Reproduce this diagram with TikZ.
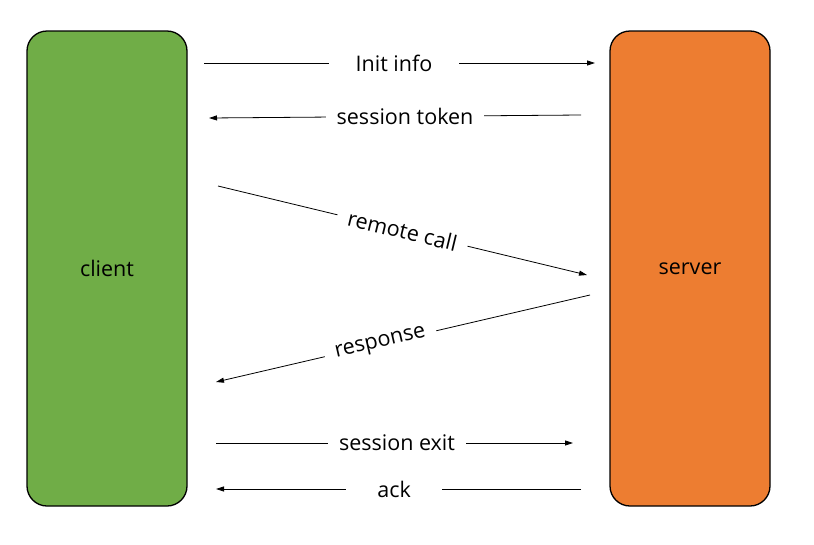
\documentclass[tikz,border=0pt]{standalone}
\usepackage{fontspec}
\setmainfont{Open Sans}
\usetikzlibrary{arrows.meta}
\definecolor{ClientGreen}{HTML}{70AD47}
\definecolor{ServerOrange}{HTML}{ED7D31}

\begin{document}
\begin{tikzpicture}[
    x=1pt, y=-1pt,
    every node/.style={font=\fontsize{21.5}{26}\selectfont},
    party/.style={draw, line width=1.3pt, rounded corners=20pt,
                  minimum width=160pt, minimum height=475pt},
    msg/.style={-{Triangle[length=8pt,width=5pt]}, line width=0.8pt},
    lbl/.style={fill=white, inner xsep=11pt, inner ysep=1pt},
  ]
    \useasboundingbox (0,0) rectangle (814,544);

    \node[party, fill=ClientGreen]  (client) at (107,268.5) {client};
    \node[party, fill=ServerOrange] (server) at (690,268.5) {server};

    % end points of the messages
    \coordinate (init s)  at (204,63);   \coordinate (init e)  at (595,63);
    \coordinate (tok s)   at (581,115);  \coordinate (tok e)   at (209,118);
    \coordinate (call s)  at (218,186);  \coordinate (call e)  at (587,275);
    \coordinate (resp s)  at (590,295);  \coordinate (resp e)  at (216,382);
    \coordinate (exit s)  at (216,443);  \coordinate (exit e)  at (573,443);
    \coordinate (ack s)   at (581,489);  \coordinate (ack e)   at (216,489);

    \draw[msg] (init s) -- (init e)
      node[lbl, pos=0.486, inner xsep=27pt] (init) {Init info};
    \draw[msg] (tok s) -- (tok e)
      node[lbl, pos=0.473] (tok) {session token};
    \draw[msg] (call s) -- (call e)
      node[lbl, pos=0.5, sloped] (call) {remote call};
    \draw[msg] (resp s) -- (resp e)
      node[lbl, pos=0.56, sloped] (resp) {response};
    \draw[msg] (exit s) -- (exit e)
      node[lbl, pos=0.507] (exit) {session exit};
    \draw[msg] (ack s) -- (ack e)
      node[lbl, pos=0.512, inner xsep=31pt] (ack) {ack};
\end{tikzpicture}
\end{document}
